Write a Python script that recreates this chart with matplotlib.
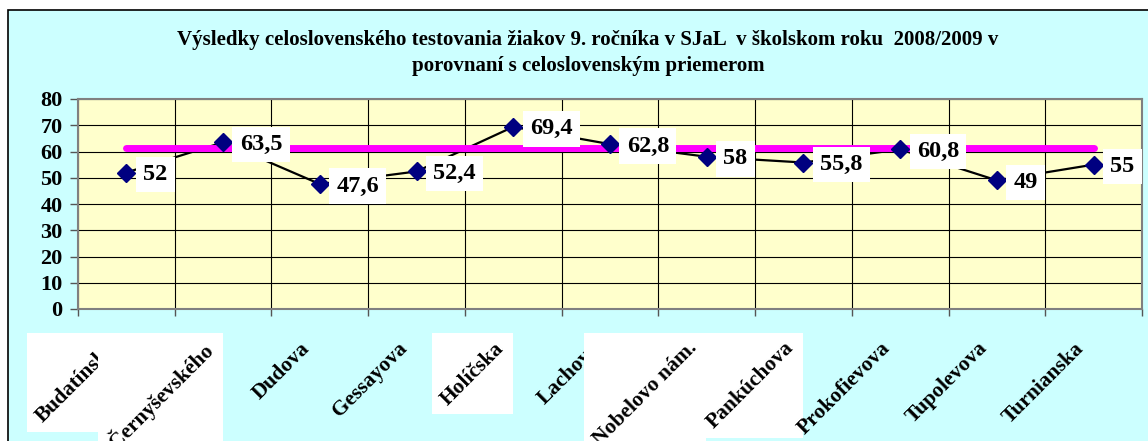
import numpy as np
import matplotlib.pyplot as plt
from matplotlib.patches import Rectangle

plt.rcParams['font.family'] = ['Liberation Serif', 'DejaVu Serif']
plt.rcParams['font.weight'] = 'bold'

skoly = ['Budatínska', 'Černyševského', 'Dudova', 'Gessayova', 'Holíčska', 'Lachova',
         'Nobelovo nám.', 'Pankúchova', 'Prokofievova', 'Tupolevova', 'Turnianska']
vysledky = [52, 63.5, 47.6, 52.4, 69.4, 62.8, 58, 55.8, 60.8, 49, 55]
priemer = [61.3] * len(skoly)
biele_boxy = [0, 1, 4, 6, 7]  # popisky s bielym pozadim ako v Exceli

titulok = ('Výsledky celoslovenského testovania žiakov 9. ročníka v SJaL  v školskom roku  2008/2009 v\n'
           'porovnaní s celoslovenským priemerom')

W, H = 1148, 441
fig = plt.figure(figsize=(W / 100, H / 100), dpi=100, facecolor='white')

# ramcek grafu
fig.patches.append(Rectangle((8 / W, -0.1), 1.2, (H - 10) / H + 0.1, transform=fig.transFigure,
                             facecolor='#CCFFFF', edgecolor='black', linewidth=1.2, zorder=-5))

ax = fig.add_axes([78 / W, 1 - 309 / H, (1142 - 78) / W, 210 / H])
ax.set_facecolor('#FFFFCC')

x = np.arange(len(skoly)) + 0.5
ax.plot(x, vysledky, color='black', lw=1.6, zorder=3)
ax.plot(x, priemer, color='#FF00FF', lw=5, solid_capstyle='round', zorder=4)
ax.plot(x, vysledky, ls='none', marker='D', ms=9, color='#000080', zorder=5)

for xi, v in zip(x, vysledky):
    ax.annotate(f'{v:g}'.replace('.', ','), (xi, v), xytext=(12, -1.5), textcoords='offset points',
                ha='left', va='center', fontsize=17.5, fontweight='bold', zorder=6,
                bbox=dict(boxstyle='square,pad=0.3', fc='white', ec='none'))

ax.set_xlim(0, len(skoly))
ax.set_ylim(0, 80)
ax.set_yticks(range(0, 81, 10))
ax.set_xticks(range(len(skoly) + 1))
ax.set_xticklabels([])
ax.grid(True, color='black', lw=0.8, zorder=1)
ax.set_axisbelow(True)
ax.tick_params(axis='y', length=6, width=1, pad=5, labelsize=16, color='#555555')
ax.tick_params(axis='x', length=5, width=1, color='#555555')
for lbl in ax.get_yticklabels():
    lbl.set_fontweight('bold')
for s in ax.spines.values():
    s.set_color('#808080')
    s.set_linewidth(1.5)

popisky = []
for i, (xi, meno) in enumerate(zip(x, skoly)):
    t = ax.annotate(meno, (xi, 0), xycoords=('data', 'axes fraction'), xytext=(-4, -21),
                    textcoords='offset points', ha='right', va='top', rotation=45,
                    fontsize=15.5, fontweight='bold', annotation_clip=False, zorder=11 + 2 * i)
    popisky.append(t)

fig.text(588 / W, 1 - 53 / H, titulok, ha='center', va='center', fontsize=15,
         fontweight='bold', linespacing=1.35)

fig.canvas.draw()
r = fig.canvas.get_renderer()
for i in biele_boxy:
    bb = popisky[i].get_window_extent(r)
    ax.add_patch(Rectangle((bb.x0 - 5, bb.y0 - 5), bb.width + 10, bb.height + 10, transform=None,
                           facecolor='white', edgecolor='none', clip_on=False, zorder=10 + 2 * i))

fig.savefig('out.png', dpi=100)
